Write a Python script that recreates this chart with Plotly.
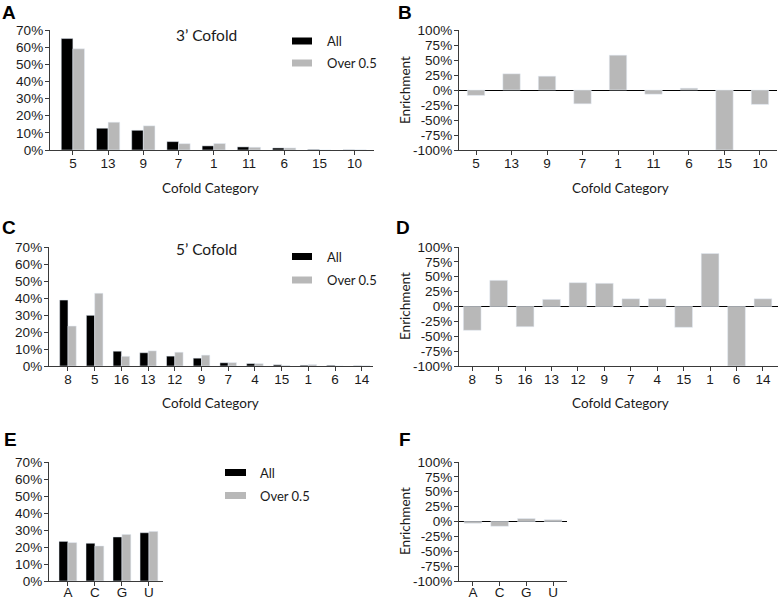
import plotly.graph_objects as go

# ---- data ----
cat3 = ["5", "13", "9", "7", "1", "11", "6", "15", "10"]
all3 = [65.0, 12.7, 11.5, 4.9, 2.4, 1.8, 1.2, 0.3, 0.1]
over3 = [59.0, 16.2, 14.1, 3.7, 3.8, 1.6, 1.2, 0.0, 0.08]
enr3 = [-9, 27, 23, -23, 58, -7, 3, -100, -24]

cat5 = ["8", "5", "16", "13", "12", "9", "7", "4", "15", "1", "6", "14"]
all5 = [38.8, 29.8, 8.7, 7.8, 5.8, 4.6, 1.9, 1.4, 0.7, 0.45, 0.4, 0.1]
over5 = [23.5, 42.8, 5.7, 8.9, 8.1, 6.4, 2.0, 1.4, 0.35, 0.85, 0.0, 0.11]
enr5 = [-40, 44, -34, 12, 40, 39, 13, 13, -35, 89, -100, 13]

nuc = ["A", "C", "G", "U"]
allN = [23.3, 22.2, 25.9, 28.4]
overN = [22.6, 20.6, 27.4, 29.2]
enrN = [-3, -8, 5, 3]

pct_ticks = [0, 10, 20, 30, 40, 50, 60, 70]
pct_text = ["0%", "10%", "20%", "30%", "40%", "50%", "60%", "70%"]
enr_ticks = [-100, -75, -50, -25, 0, 25, 50, 75, 100]
enr_text = ["-100%", "-75%", "-50%", "-25%", "0%", "25%", "50%", "75%", "100%"]

BLACK = "#000000"
GREY = "#b8b8b8"
AXC = "#3a3a3a"
W, H = 780, 600
TICKFONT = dict(family="Liberation Sans, Arial, sans-serif", size=13.5, color="#1a1a1a")
TITLEFONT = dict(family="Lato, Carlito, sans-serif", size=13.5, color="#1a1a1a")

fig = go.Figure()


def px_x(x):
    return x / W


def px_y(y):
    return 1 - y / H


def add_pair(cats, a, o, xa, ya, width):
    fig.add_trace(go.Bar(x=cats, y=a, marker_color=BLACK, width=width, offset=-width,
                         xaxis=xa, yaxis=ya, showlegend=False, name="All"))
    fig.add_trace(go.Bar(x=cats, y=o, marker_color=GREY, width=width, offset=0,
                         xaxis=xa, yaxis=ya, showlegend=False, name="Over 0.5"))


def add_enr(cats, e, xa, ya, width):
    fig.add_trace(go.Bar(x=cats, y=e, marker_color=GREY, width=width, offset=-width / 2,
                         xaxis=xa, yaxis=ya, showlegend=False, name="Enrichment"))


add_pair(cat3, all3, over3, "x", "y", 0.33)
add_enr(cat3, enr3, "x2", "y2", 0.49)
add_pair(cat5, all5, over5, "x3", "y3", 0.31)
add_enr(cat5, enr5, "x4", "y4", 0.67)
add_pair(nuc, allN, overN, "x5", "y5", 0.33)
add_enr(nuc, enrN, "x6", "y6", 0.66)

common_x = dict(type="category", showline=True, linecolor=AXC, linewidth=1.3,
                ticks="outside", ticklen=4, tickcolor=AXC, tickwidth=1.2,
                showgrid=False, zeroline=False, tickfont=TICKFONT, fixedrange=True,
                ticklabelstandoff=-3, automargin=False)
common_y = dict(showline=True, linecolor=AXC, linewidth=1.3, ticks="outside",
                ticklen=4, tickcolor=AXC, tickwidth=1.2, showgrid=False,
                tickfont=TICKFONT, tickmode="array", fixedrange=True,
                ticklabelstandoff=-1, automargin=False)

panels = [
    ("xaxis", "yaxis", (50, 374), (30, 150), [-0.65, 8.55], "pct"),
    ("xaxis2", "yaxis2", (459, 777), (30, 150), [-0.48, 8.48], "enr"),
    ("xaxis3", "yaxis3", (49, 373), (247, 366), [-0.71, 11.42], "pct"),
    ("xaxis4", "yaxis4", (459, 778), (247, 366), [-0.5, 11.57], "enr"),
    ("xaxis5", "yaxis5", (49, 163), (462, 581), [-0.7, 3.52], "pct"),
    ("xaxis6", "yaxis6", (459, 567), (462, 581), [-0.52, 3.52], "enr"),
]

layout = {}
for i, (xk, yk, (x0, x1), (y0, y1), xr, kind) in enumerate(panels):
    n = i + 1
    xa = dict(common_x)
    xa.update(domain=[px_x(x0), px_x(x1)], range=xr, anchor="y" if n == 1 else f"y{n}")
    if n >= 5:
        xa.update(ticklabelstandoff=-5)
    ya = dict(common_y)
    ya.update(domain=[px_y(y1), px_y(y0)], anchor="x" if n == 1 else f"x{n}")
    if kind == "pct":
        ya.update(range=[0, 70], tickvals=pct_ticks, ticktext=pct_text, zeroline=False)
    else:
        ya.update(range=[-100, 100], tickvals=enr_ticks, ticktext=enr_text,
                  zeroline=True, zerolinecolor="#000000", zerolinewidth=1.3)
    layout[xk] = xa
    layout[yk] = ya

annotations = []
shapes = []


def text_at(x, y, text, font, xanchor="center", angle=0):
    annotations.append(dict(x=px_x(x), y=px_y(y), xref="paper", yref="paper", text=text,
                            showarrow=False, xanchor=xanchor, yanchor="middle",
                            font=font, textangle=angle))


LABELFONT = dict(family="Liberation Sans, Arial, sans-serif", size=19, color="#000000")
for lab, x, y in [("A", 9, 12), ("B", 405, 12), ("C", 9, 227), ("D", 403, 227),
                  ("E", 10, 440), ("F", 405, 440)]:
    text_at(x, y, f"<b>{lab}</b>", LABELFONT)

for x, y in [(210, 188), (620, 188), (210, 403), (620, 403)]:
    text_at(x, y, "Cofold Category", TITLEFONT)
for y in [90, 306, 521]:
    text_at(405, y, "Enrichment", TITLEFONT, angle=-90)

HEADFONT = dict(family="Lato, Carlito, sans-serif", size=15.5, color="#1a1a1a")
text_at(206, 35, "3’ Cofold", HEADFONT)
text_at(206, 249, "5’ Cofold", HEADFONT)

LEGFONT = dict(family="Lato, Carlito, sans-serif", size=13, color="#1a1a1a")
for (sx0, sx1, yb, yg, tx) in [(292, 312, 41, 63, 325), (292, 312, 256.5, 280, 325),
                               (225, 246, 472.5, 495.5, 258)]:
    shapes.append(dict(type="rect", xref="paper", yref="paper", x0=px_x(sx0), x1=px_x(sx1),
                       y0=px_y(yb + 3.5), y1=px_y(yb - 3.5), fillcolor=BLACK, line_width=0))
    shapes.append(dict(type="rect", xref="paper", yref="paper", x0=px_x(sx0), x1=px_x(sx1),
                       y0=px_y(yg + 3.5), y1=px_y(yg - 3.5), fillcolor=GREY, line_width=0))
    text_at(tx, yb, "All", LEGFONT, xanchor="left")
    text_at(tx, yg, "Over 0.5", LEGFONT, xanchor="left")

fig.update_layout(
    width=W, height=H, margin=dict(l=0, r=0, t=0, b=0, autoexpand=False),
    paper_bgcolor="white", plot_bgcolor="white",
    barmode="overlay", showlegend=False,
    annotations=annotations, shapes=shapes,
    **layout,
)

fig.write_html("out.html", config={"displayModeBar": False},
               post_script="document.body.style.margin='0px';document.body.style.overflow='hidden';")
